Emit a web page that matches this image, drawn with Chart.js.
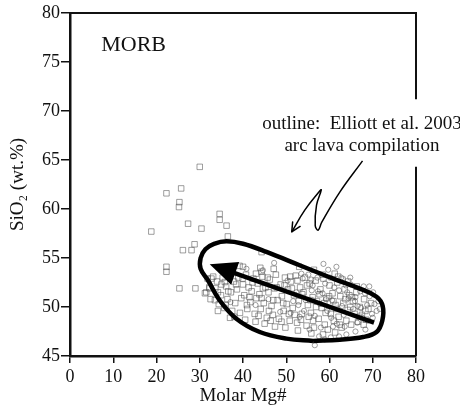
<!DOCTYPE html>
<html>
<head>
<meta charset="utf-8">
<script src="https://cdn.jsdelivr.net/npm/chart.js@4/dist/chart.umd.min.js"></script>
<style>
  html, body { margin: 0; padding: 0; background: #fff }
  #wrap { width: 460px; height: 411px; position: relative }
</style>
</head>
<body>
<div id="wrap"><canvas id="chart"></canvas></div>
<script>
const xTicks = [0, 10, 20, 30, 40, 50, 60, 70, 80]
const yTicks = [45, 50, 55, 60, 65, 70, 75, 80]

// arc lavas plotted as open squares (Mg#, SiO2)
const squarePoints = [
  [30.0, 64.3], [22.3, 61.6], [25.7, 62.1], [25.3, 60.7], [25.2, 60.2], [18.8, 57.7],
  [27.3, 58.5], [30.4, 58.0], [34.6, 59.5], [34.6, 58.9], [36.2, 58.3], [36.5, 57.2],
  [28.1, 55.8], [26.1, 55.8], [28.8, 56.4], [22.3, 54.1], [22.3, 53.6], [25.3, 51.9],
  [29.0, 51.9], [31.5, 51.5], [40.0, 54.1], [44.3, 55.6], [44.3, 53.6],
  [32.7, 52.9], [32.3, 51.9], [34.2, 51.5], [35.8, 52.55],
  [31.2, 51.4], [31.8, 52.9], [32.5, 50.8], [33.1, 53.1], [33.6, 51.9], [34.0, 52.6], [34.4, 50.3], [32.2, 52.0],
  [34.9, 51.2], [35.3, 53.0], [35.7, 49.9], [36.1, 52.1], [36.4, 50.8], [36.8, 53.4], [37.2, 51.5], [37.5, 49.6], [37.9, 52.6], [38.2, 50.4],
  [38.6, 51.8], [38.9, 53.0], [39.3, 49.4], [39.6, 50.9], [40.0, 52.3], [40.3, 51.2], [40.7, 53.3], [41.0, 49.8], [41.3, 52.0], [41.7, 50.5], [42.0, 51.6],
  [42.4, 52.9], [42.7, 49.3], [43.1, 50.9], [43.4, 52.4], [43.8, 51.3], [44.1, 49.8], [44.5, 53.1], [44.8, 50.4], [45.2, 52.0], [45.5, 48.9], [45.9, 51.5],
  [46.2, 52.8], [46.6, 50.1], [46.9, 49.2], [47.3, 51.9], [47.6, 53.3], [48.0, 50.7], [48.3, 48.8], [48.7, 52.3], [49.0, 51.1], [49.4, 49.6], [49.7, 53.0],
  [50.1, 50.3], [50.4, 51.8], [50.8, 48.6], [51.1, 52.6], [51.5, 49.9], [51.8, 51.2], [52.2, 53.2], [52.5, 48.4], [52.9, 50.6], [53.2, 52.0], [53.6, 49.3],
  [54.0, 51.5], [54.3, 53.0], [54.7, 48.1], [55.0, 50.2], [55.4, 52.4], [55.7, 49.4], [56.1, 51.0], [56.4, 47.9], [56.8, 52.7], [57.1, 50.6], [57.5, 48.8],
  [57.9, 51.8], [58.2, 49.9], [58.6, 52.9], [58.9, 48.2], [59.3, 50.9], [59.6, 47.7], [60.0, 52.2], [60.3, 49.3], [60.7, 51.4], [61.0, 48.6], [61.4, 50.2],
  [61.8, 52.5], [62.1, 49.0], [62.5, 51.1], [62.8, 47.9], [63.2, 50.4], [63.5, 51.8], [63.9, 48.6], [64.2, 49.7], [64.6, 51.2], [65.0, 48.2],
  [65.4, 50.6], [65.8, 49.3], [66.2, 51.5], [66.6, 48.5], [67.0, 50.0], [67.5, 49.2], [68.0, 50.8], [68.5, 48.7], [69.0, 49.8], [69.6, 50.4],
  [33.5, 50.7], [35.0, 52.3], [36.6, 51.6], [38.0, 49.0], [39.9, 52.9], [41.5, 51.0], [43.0, 53.4], [44.3, 50.9], [46.0, 49.6], [47.8, 52.0],
  [49.3, 50.4], [50.9, 53.1], [52.0, 49.2], [53.7, 51.3], [55.2, 49.0], [56.9, 50.0], [58.4, 53.3], [59.9, 51.1], [61.6, 49.8], [63.0, 52.8],
  [64.8, 50.0], [66.3, 52.1], [67.9, 48.2],
  [34.2, 49.6], [37.0, 48.9], [40.5, 48.7], [42.9, 48.5], [45.0, 48.3], [47.4, 48.0], [49.8, 47.9], [52.7, 47.6], [55.8, 47.3], [58.5, 47.2], [61.3, 47.4],
  [39.2, 54.2], [44.0, 54.0], [47.1, 53.9], [53.0, 54.1], [56.4, 53.8], [61.2, 53.4], [64.3, 52.6],
  [36.0, 50.2], [38.4, 52.3], [40.9, 50.2], [42.2, 52.5], [43.6, 49.1], [45.7, 53.0], [47.0, 50.7], [48.9, 48.5], [50.6, 49.3], [51.3, 51.9],
  [53.4, 48.7], [54.8, 52.2], [56.2, 48.6], [57.7, 51.3], [59.1, 49.4], [60.9, 50.6], [62.4, 48.2], [63.7, 50.8], [65.2, 51.0], [66.9, 49.0],
  [68.3, 49.6], [44.6, 51.9], [46.4, 48.6], [49.6, 52.2], [52.6, 52.7], [55.6, 50.7], [58.8, 50.4], [62.0, 53.1]
]

// arc lavas plotted as open circles
const circlePoints = [
  [50.3, 52.7], [51.6, 50.6], [52.3, 51.5], [53.1, 49.0], [53.8, 52.9], [54.5, 50.7], [55.1, 53.3], [55.9, 51.7],
  [56.6, 49.1], [57.2, 53.0], [57.8, 50.3], [58.4, 51.4], [59.0, 52.4], [59.5, 49.6], [60.1, 53.0], [60.6, 50.7],
  [61.1, 52.0], [61.7, 48.3], [62.2, 51.7], [62.7, 53.0], [63.3, 49.2], [63.8, 52.2], [64.4, 50.9], [64.9, 52.3],
  [65.5, 49.8], [66.0, 51.0], [66.5, 50.1], [67.1, 51.6], [67.6, 48.9], [68.2, 51.4], [68.7, 50.2], [69.3, 51.1],
  [69.8, 49.3], [70.4, 50.3], [70.9, 49.6], [71.3, 50.6],
  [55.4, 47.7], [56.6, 46.1], [57.6, 47.0], [58.9, 46.7], [60.3, 46.9], [62.2, 47.0], [63.9, 47.2], [66.0, 47.5],
  [68.3, 47.7], [58.0, 47.9], [60.8, 48.0],
  [61.6, 54.1], [58.6, 54.4], [64.8, 53.0], [67.9, 52.1], [70.1, 51.5],
  [44.6, 53.75], [47.2, 54.5], [40.8, 53.9], [42.9, 50.2], [45.9, 50.8], [48.6, 49.5], [37.1, 50.5],
  [51.0, 49.4], [52.8, 50.2], [54.1, 49.6], [55.8, 52.8], [57.3, 51.6], [59.2, 50.8], [60.4, 48.9], [62.9, 50.1],
  [64.1, 51.5], [65.9, 50.6], [67.3, 49.9], [68.9, 48.6], [70.0, 48.9], [71.6, 49.8], [63.5, 48.0], [66.4, 48.4],
  [69.2, 52.1], [56.1, 52.2], [53.5, 53.4], [59.7, 53.8]
]

// hand-drawn field outline, closed on its first point
const outline = [
  [56.2, 46.53], [50.05, 46.77], [43.87, 47.45], [38.47, 48.81], [34.61, 50.68], [31.9, 52.73],
  [30.2, 53.9], [30.2, 55.0], [31.3, 55.9], [33.3, 56.45], [36.2, 56.7], [40.0, 56.45],
  [45.42, 55.62], [53.1, 54.26], [60.83, 52.9], [67.01, 51.88], [70.88, 51.05], [72.3, 50.1],
  [72.2, 48.6], [70.88, 47.45], [67.78, 46.94], [62.38, 46.67], [56.2, 46.53]
]

// trend arrow, tail then tip
const trendArrow = [[70.3, 48.4], [32.3, 54.35]]

// wiggly pointer from the note down to the outline
const pointerLine = [
  [67.64, 64.91], [62.38, 61.72], [58.22, 58.65], [57.4, 57.85], [56.7, 58.3],
  [57.0, 60.4], [58.1, 61.95], [57.5, 61.7], [54.28, 59.88], [51.27, 57.66]
]

// [text, x, y, align, size]
const notes = [
  ['MORB', 7.22, 76.15, 'left', 22],
  ['outline:  Elliott et al. 2003', 67.5, 68.15, 'center', 19],
  ['arc lava compilation', 67.5, 65.9, 'center', 19]
]

// right frame edge is interrupted behind the note (SiO2 range)
const frameGap = [71.2, 64.3]

const serif = "'Liberation Serif', 'Times New Roman', 'DejaVu Serif', serif"
const ink = '#111'
const markColor = 'rgba(70,70,70,0.65)'
const pts = list => list.map(p => ({ x: p[0], y: p[1] }))

const decorations = {
  id: 'decorations',
  afterDatasetsDraw (chart) {
    const { ctx, chartArea: a, scales: { x, y } } = chart
    const px = p => [x.getPixelForValue(p[0]), y.getPixelForValue(p[1])]
    ctx.save()

    // top and right frame
    ctx.strokeStyle = ink
    ctx.lineWidth = 2
    ctx.beginPath()
    ctx.moveTo(a.left, a.top)
    ctx.lineTo(a.right, a.top)
    ctx.lineTo(a.right, y.getPixelForValue(frameGap[0]))
    ctx.moveTo(a.right, y.getPixelForValue(frameGap[1]))
    ctx.lineTo(a.right, a.bottom)
    ctx.stroke()

    // trend arrow: thick shaft plus solid head
    const [tx, ty] = px(trendArrow[0])
    const [hx, hy] = px(trendArrow[1])
    const ang = Math.atan2(hy - ty, hx - tx)
    const headLen = 27
    const headHalf = 12
    const bx = hx - headLen * Math.cos(ang)
    const by = hy - headLen * Math.sin(ang)
    ctx.strokeStyle = '#000'
    ctx.lineWidth = 4.5
    ctx.lineCap = 'butt'
    ctx.beginPath()
    ctx.moveTo(tx, ty)
    ctx.lineTo(bx + 2 * Math.cos(ang), by + 2 * Math.sin(ang))
    ctx.stroke()
    ctx.fillStyle = '#000'
    ctx.beginPath()
    ctx.moveTo(hx, hy)
    ctx.lineTo(bx + headHalf * Math.sin(ang), by - headHalf * Math.cos(ang))
    ctx.lineTo(bx - headHalf * Math.sin(ang), by + headHalf * Math.cos(ang))
    ctx.closePath()
    ctx.fill()

    // open head on the pointer
    const n = pointerLine.length
    const [px1, py1] = px(pointerLine[n - 2])
    const [px2, py2] = px(pointerLine[n - 1])
    const pa = Math.atan2(py2 - py1, px2 - px1)
    ctx.lineWidth = 1.5
    ctx.lineCap = 'round'
    ctx.beginPath()
    for (const s of [-1, 1]) {
      ctx.moveTo(px2, py2)
      ctx.lineTo(px2 - 10 * Math.cos(pa + s * 0.45), py2 - 10 * Math.sin(pa + s * 0.45))
    }
    ctx.stroke()

    // labels
    ctx.fillStyle = ink
    ctx.textBaseline = 'alphabetic'
    for (const [text, vx, vy, align, size] of notes) {
      ctx.font = size + 'px ' + serif
      ctx.textAlign = align
      const [lx, ly] = px([vx, vy])
      ctx.fillText(text, lx, ly)
    }
    ctx.restore()
  }
}

new Chart(document.getElementById('chart'), {
  type: 'scatter',
  data: {
    datasets: [
      {
        data: pts(outline),
        showLine: true,
        borderColor: '#000',
        borderWidth: 4.5,
        tension: 0.4,
        pointRadius: 0
      },
      {
        data: pts(pointerLine),
        showLine: true,
        borderColor: '#000',
        borderWidth: 1.5,
        tension: 0.4,
        pointRadius: 0
      },
      {
        data: pts(squarePoints),
        pointStyle: 'rect',
        pointRadius: 3.9,
        borderWidth: 0.8,
        borderColor: markColor,
        backgroundColor: 'rgba(0,0,0,0)'
      },
      {
        data: pts(circlePoints),
        pointStyle: 'circle',
        pointRadius: 2.6,
        borderWidth: 0.8,
        borderColor: markColor,
        backgroundColor: 'rgba(0,0,0,0)'
      }
    ]
  },
  options: {
    responsive: true,
    maintainAspectRatio: false,
    animation: false,
    events: [],
    layout: { padding: { left: 0, top: 13, right: 44, bottom: 0 } },
    plugins: { legend: { display: false }, tooltip: { enabled: false } },
    scales: {
      x: {
        type: 'linear',
        min: 0,
        max: 80,
        afterBuildTicks: axis => { axis.ticks = xTicks.map(v => ({ value: v })) },
        afterFit: axis => { axis.height = 55 },
        ticks: { font: { family: serif, size: 18 }, color: ink, padding: 3 },
        grid: { drawOnChartArea: false, tickLength: 7, color: ink, lineWidth: 1.5 },
        border: { color: ink, width: 2.5 },
        title: { display: true, text: 'Molar Mg#', font: { family: serif, size: 19 }, color: ink, padding: { top: 0, bottom: 4 } }
      },
      y: {
        type: 'linear',
        min: 45,
        max: 80,
        afterBuildTicks: axis => { axis.ticks = yTicks.map(v => ({ value: v })) },
        afterFit: axis => { axis.width = 70 },
        ticks: { font: { family: serif, size: 18 }, color: ink, padding: 1 },
        grid: { drawOnChartArea: false, tickLength: 9, color: ink, lineWidth: 1.5 },
        border: { color: ink, width: 2.5 },
        title: { display: true, text: 'SiO₂ (wt.%)', font: { family: serif, size: 19 }, color: ink, padding: { top: 7, bottom: 0 } }
      }
    }
  },
  plugins: [decorations]
})
</script>
</body>
</html>
